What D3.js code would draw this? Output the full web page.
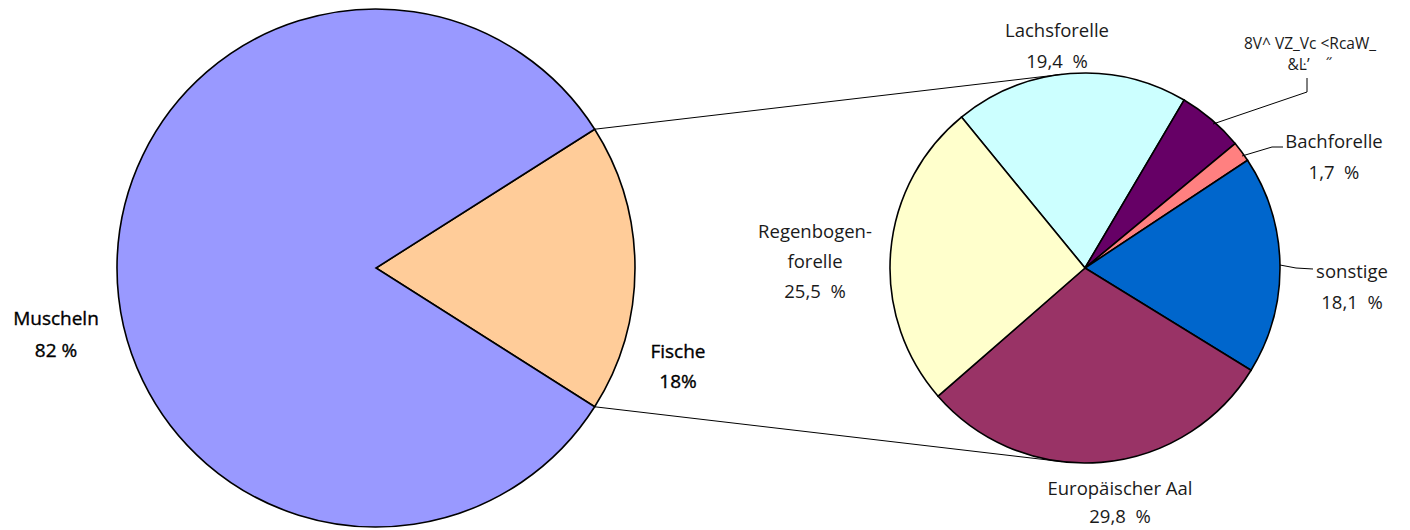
<!DOCTYPE html>
<html>
<head>
<meta charset="utf-8">
<script src="https://cdn.jsdelivr.net/npm/d3@7"></script>
<style>
  body { margin: 0; background: #fff; }
  text { font-family: "Open Sans", "Noto Sans", sans-serif; fill: #1a1a1a; }
</style>
</head>
<body>
<svg id="chart" width="1410" height="530"></svg>
<script>
// data
var mainNames = ["Fische", "Muscheln"];
var mainValues = [18, 82];
var mainLabels = ["18%", "82 %"];
var mainColors = ["#FFCC99", "#9999FF"];

var fishNames = ["Lachsforelle", "8V^ VZ_Vc <RcaW_", "Bachforelle", "sonstige", "Europäischer Aal", "Regenbogen-forelle"];
var fishValues = [19.4, 5.5, 1.7, 18.1, 29.8, 25.5];
var fishLabels = ["19,4  %", "&Ŀ’    ˝", "1,7  %", "18,1  %", "29,8  %", "25,5  %"];
var fishColors = ["#CCFFFF", "#660066", "#FF8080", "#0066CC", "#993366", "#FFFFCC"];

var svg = d3.select("#chart");

// big pie
var c1 = [376, 268], r1 = 259;
var fischeSpan = mainValues[0] / 100 * 2 * Math.PI;
var pie1 = d3.pie().sort(null).value(function(d) { return d; })
    .startAngle(Math.PI / 2 - fischeSpan / 2)
    .endAngle(Math.PI / 2 - fischeSpan / 2 + 2 * Math.PI);
var arc1 = d3.arc().innerRadius(0).outerRadius(r1);
var g1 = svg.append("g").attr("transform", "translate(" + c1 + ")");
g1.selectAll("path").data(pie1(mainValues)).enter().append("path")
    .attr("d", arc1)
    .attr("fill", function(d, i) { return mainColors[i]; })
    .attr("stroke", "#000").attr("stroke-width", 1.6);

// small pie
var c2 = [1085, 268], r2 = 195;
var startDeg = -39.3;
var pie2 = d3.pie().sort(null).value(function(d) { return d; })
    .startAngle(startDeg * Math.PI / 180)
    .endAngle(startDeg * Math.PI / 180 + 2 * Math.PI);
var arc2 = d3.arc().innerRadius(0).outerRadius(r2);
var g2 = svg.append("g").attr("transform", "translate(" + c2 + ")");
g2.selectAll("path").data(pie2(fishValues)).enter().append("path")
    .attr("d", arc2)
    .attr("fill", function(d, i) { return fishColors[i]; })
    .attr("stroke", "#000").attr("stroke-width", 1.6);

// connector lines: from edges of Fische slice to tangent points of small pie
var fs = pie1(mainValues)[0];
function edgePt(a) { return [c1[0] + r1 * Math.sin(a), c1[1] - r1 * Math.cos(a)]; }
function tangent(p, side) {
    var dx = p[0] - c2[0], dy = p[1] - c2[1];
    var d = Math.sqrt(dx * dx + dy * dy);
    var base = Math.atan2(dy, dx);
    var off = Math.acos(r2 / d);
    var a = base + side * off;
    return [c2[0] + r2 * Math.cos(a), c2[1] + r2 * Math.sin(a)];
}
var pTop = edgePt(fs.startAngle), pBot = edgePt(fs.endAngle);
[[pTop, tangent(pTop, 1)], [pBot, tangent(pBot, -1)]].forEach(function(l) {
    svg.append("line")
        .attr("x1", l[0][0]).attr("y1", l[0][1])
        .attr("x2", l[1][0]).attr("y2", l[1][1])
        .attr("stroke", "#000").attr("stroke-width", 1);
});

// leader lines for small labels
var leaders = [
    [[1213, 124], [1307, 92], [1307, 78]],
    [[1242, 156], [1272, 147], [1283, 147]],
    [[1280, 265], [1296, 268], [1313, 269]]
];
leaders.forEach(function(pts) {
    svg.append("path").attr("d", d3.line()(pts))
        .attr("fill", "none").attr("stroke", "#000").attr("stroke-width", 1);
});

// labels
function label(lines, x, y, dy, size, weight) {
    var t = svg.append("text").attr("text-anchor", "middle")
        .style("font-size", size + "px").style("white-space", "pre");
    if (weight) t.style("fill", "#000").style("stroke", "#000").style("stroke-width", 0.35);
    lines.forEach(function(s, i) {
        t.append("tspan").attr("x", x).attr("y", y + i * dy).text(s);
    });
}
label([mainNames[1], mainLabels[1]], 56, 325, 32, 19, true);
label([mainNames[0], mainLabels[0]], 678, 358, 30, 19, true);
label([fishNames[0], fishLabels[0]], 1057, 37, 31, 18.5);
label([fishNames[1], fishLabels[1]], 1310, 49, 21, 15.5);
label([fishNames[2], fishLabels[2]], 1334, 148, 31, 18.5);
label([fishNames[3], fishLabels[3]], 1352, 278, 31, 18.5);
label(["Regenbogen-", "forelle", fishLabels[5]], 815, 238, 30, 18.5);
label([fishNames[4], fishLabels[4]], 1120, 495, 28, 18.5);
</script>
</body>
</html>
